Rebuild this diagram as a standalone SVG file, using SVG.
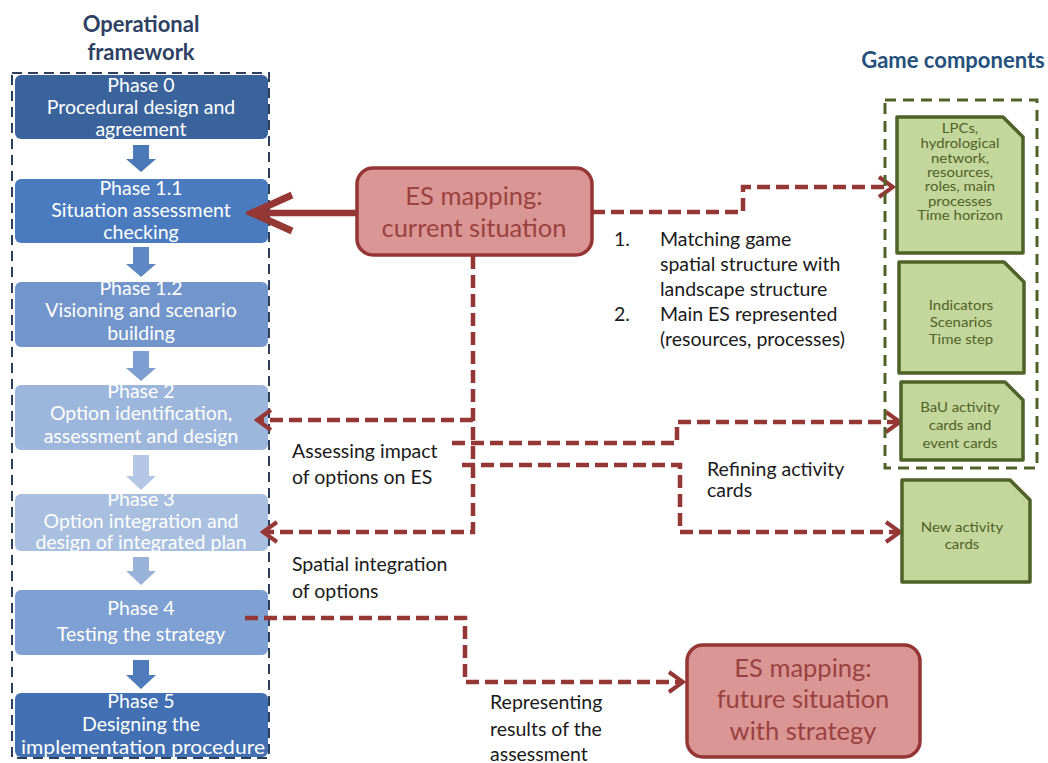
<svg xmlns="http://www.w3.org/2000/svg" width="1048" height="763" viewBox="0 0 1048 763">
<style>
.ph{font-family:Lato,"Liberation Sans",sans-serif;font-size:19.5px;fill:#ffffff;text-anchor:middle}
.lbl{font-family:Lato,"Liberation Sans",sans-serif;font-size:19.5px;fill:#1a1a1a}
.es{font-family:Lato,"Liberation Sans",sans-serif;font-size:25.5px;fill:#9a4240;text-anchor:middle}
.card{fill:#c3d69b;stroke:#4f6228;stroke-width:3.5;stroke-linejoin:round}
.ct{font-family:Lato,"Liberation Sans",sans-serif;font-size:13px;fill:#4f6228;text-anchor:middle}
.title{font-family:Lato,"Liberation Sans",sans-serif;font-weight:bold;font-size:22px;text-anchor:middle}
.dash{fill:none;stroke:#953735;stroke-width:4.5;stroke-dasharray:13 6;marker-end:url(#chev)}
.esbox{fill:#d99694;stroke:#943634;stroke-width:3.5}
</style>
<defs>
<marker id="chev" markerUnits="userSpaceOnUse" markerWidth="20" markerHeight="24" viewBox="0 0 20 24" refX="17" refY="12" orient="auto">
<path d="M3,2 L17,12 L3,22" fill="none" stroke="#953735" stroke-width="4"/>
</marker>
<marker id="big" markerUnits="userSpaceOnUse" markerWidth="52" markerHeight="46" viewBox="0 0 52 46" refX="46" refY="23" orient="auto">
<path d="M6,5 L46,23 L6,41" fill="none" stroke="#953735" stroke-width="7"/>
</marker>
</defs>
<rect width="1048" height="763" fill="#ffffff"/>

<g id="titles">
<text class="title" x="141" y="32" fill="#2e4163">Operational</text>
<text class="title" x="141" y="60" fill="#2e4163">framework</text>
<text class="title" x="953" y="68" fill="#24507c">Game components</text>
</g>

<g id="framework">
<rect x="12" y="73" width="257" height="685" fill="none" stroke="#2c3f5c" stroke-width="2" stroke-dasharray="10 6"/>
</g>

<g id="phase0">
<rect x="15" y="75" width="253" height="64" rx="6" fill="#3a639c"/>
<text class="ph" x="141" y="92">Phase 0</text>
<text class="ph" x="141" y="114">Procedural design and</text>
<text class="ph" x="141" y="136">agreement</text>
</g>
<g id="phase11">
<rect x="15" y="179" width="253" height="64" rx="6" fill="#4a7bbf"/>
<text class="ph" x="141" y="195">Phase 1.1</text>
<text class="ph" x="141" y="217">Situation assessment</text>
<text class="ph" x="141" y="239">checking</text>
</g>
<g id="phase12">
<rect x="15" y="282" width="253" height="65" rx="6" fill="#7296cb"/>
<text class="ph" x="141" y="295">Phase 1.2</text>
<text class="ph" x="141" y="317">Visioning and scenario</text>
<text class="ph" x="141" y="340">building</text>
</g>
<g id="phase2">
<rect x="15" y="385" width="253" height="65" rx="6" fill="#9db6db"/>
<text class="ph" x="141" y="398">Phase 2</text>
<text class="ph" x="141" y="420">Option identification,</text>
<text class="ph" x="141" y="443">assessment and design</text>
</g>
<g id="phase3">
<rect x="15" y="494" width="253" height="57" rx="6" fill="#a9bfe0"/>
<text class="ph" x="141" y="506">Phase 3</text>
<text class="ph" x="141" y="528">Option integration and</text>
<text class="ph" x="141" y="549">design of integrated plan</text>
</g>
<g id="phase4">
<rect x="15" y="590" width="253" height="65" rx="6" fill="#7ea0d2"/>
<text class="ph" x="141" y="615">Phase 4</text>
<text class="ph" x="141" y="641">Testing the strategy</text>
</g>
<g id="phase5">
<rect x="15" y="693" width="253" height="64" rx="6" fill="#4270b2"/>
<text class="ph" x="141" y="708">Phase 5</text>
<text class="ph" x="141" y="731">Designing the</text>
<text class="ph" x="143" y="754" textLength="244" lengthAdjust="spacingAndGlyphs">implementation procedure</text>
</g>

<g id="phase-arrows">
<polygon points="133,145 149,145 149,159 156,159 141,172 126,159 133,159" fill="#4a79b8"/>
<polygon points="133,247 149,247 149,264 156,264 141,277 126,264 133,264" fill="#5d88c3"/>
<polygon points="133,351 149,351 149,368 156,368 141,381 126,368 133,368" fill="#7d9ed0"/>
<polygon points="133,455 149,455 149,476 156,476 141,490 126,476 133,476" fill="#b4c7e6"/>
<polygon points="133,557 149,557 149,571 156,571 141,585 126,571 133,571" fill="#9ab3db"/>
<polygon points="133,660 149,660 149,675 156,675 141,689 126,675 133,675" fill="#4f7bbc"/>
</g>

<g id="connectors">
<path d="M357,213 H252" fill="none" stroke="#953735" stroke-width="6.5" marker-end="url(#big)"/>
<path class="dash" d="M592,212 H743 V187 H893"/>
<path class="dash" d="M473,256 V532 H263"/>
<path class="dash" d="M473,420 H257"/>
<path class="dash" d="M452,443 H677 V422 H900"/>
<path class="dash" d="M462,465 H680 V532 H900"/>
<path class="dash" d="M245,618 H465 V682 H683"/>
</g>

<g id="es-current">
<rect class="esbox" x="357" y="168" width="235" height="87" rx="16"/>
<text class="es" x="474" y="205">ES mapping:</text>
<text class="es" x="474" y="237">current situation</text>
</g>

<g id="es-future">
<rect class="esbox" x="687" y="645" width="233" height="112" rx="16"/>
<text class="es" x="803" y="677">ES mapping:</text>
<text class="es" x="803" y="708">future situation</text>
<text class="es" x="803" y="740">with strategy</text>
</g>

<g id="game-components">
<rect x="885" y="100" width="152" height="368" fill="none" stroke="#4f6228" stroke-width="3" stroke-dasharray="11 7"/>
</g>

<g id="card1">
<path class="card" d="M897,117 H1003 L1023,137 V253 H897 Z"/>
<g transform="translate(960 0) scale(1.15 1)">
<text class="ct" x="0" y="133">LPCs,</text>
<text class="ct" x="0" y="148">hydrological</text>
<text class="ct" x="0" y="163">network,</text>
<text class="ct" x="0" y="177">resources,</text>
<text class="ct" x="0" y="191">roles, main</text>
<text class="ct" x="0" y="206">processes</text>
<text class="ct" x="0" y="220">Time horizon</text>
</g>
</g>
<g id="card2">
<path class="card" d="M899,262 H1004 L1024,282 V373 H899 Z"/>
<g transform="translate(961 0) scale(1.15 1)">
<text class="ct" x="0" y="310">Indicators</text>
<text class="ct" x="0" y="327">Scenarios</text>
<text class="ct" x="0" y="344">Time step</text>
</g>
</g>
<g id="card3">
<path class="card" d="M901,382 H1005 L1023,400 V460 H901 Z"/>
<g transform="translate(960 0) scale(1.15 1)">
<text class="ct" x="0" y="412">BaU activity</text>
<text class="ct" x="0" y="430">cards and</text>
<text class="ct" x="0" y="448">event cards</text>
</g>
</g>
<g id="card4">
<path class="card" d="M902,480 H1010 L1030,500 V582 H902 Z"/>
<g transform="translate(962 0) scale(1.15 1)">
<text class="ct" x="0" y="532">New activity</text>
<text class="ct" x="0" y="549">cards</text>
</g>
</g>

<g id="labels">
<text class="lbl" x="614" y="246">1.</text>
<text class="lbl" x="660" y="246">Matching game</text>
<text class="lbl" x="660" y="271">spatial structure with</text>
<text class="lbl" x="660" y="296">landscape structure</text>
<text class="lbl" x="614" y="321">2.</text>
<text class="lbl" x="660" y="321">Main ES represented</text>
<text class="lbl" x="660" y="346">(resources, processes)</text>
<text class="lbl" x="292" y="458">Assessing impact</text>
<text class="lbl" x="292" y="484">of options on ES</text>
<text class="lbl" x="292" y="571">Spatial integration</text>
<text class="lbl" x="292" y="598">of options</text>
<text class="lbl" x="707" y="476">Refining activity</text>
<text class="lbl" x="707" y="497">cards</text>
<text class="lbl" x="490" y="709">Representing</text>
<text class="lbl" x="490" y="736">results of the</text>
<text class="lbl" x="490" y="761">assessment</text>
</g>
</svg>
